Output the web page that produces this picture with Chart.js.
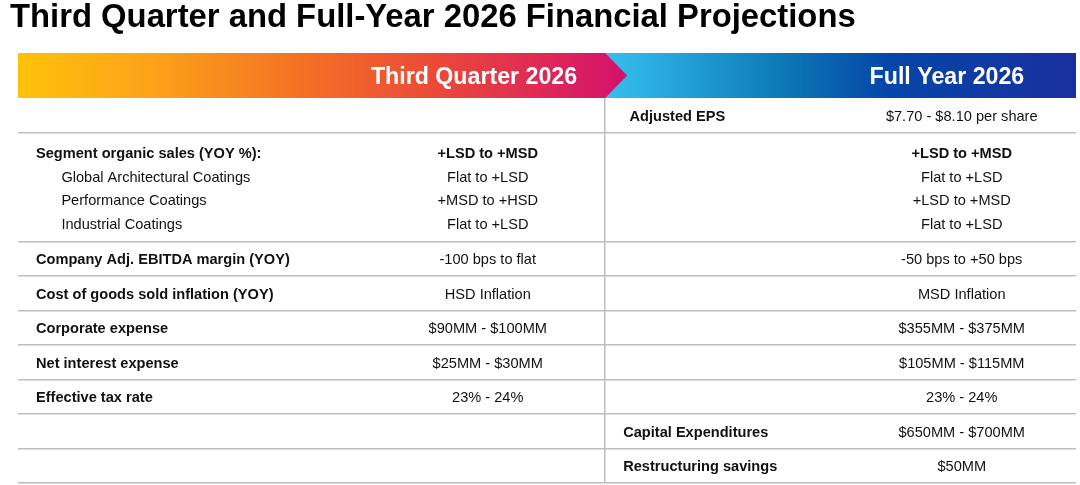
<!DOCTYPE html>
<html>
<head>
<meta charset="utf-8">
<script src="https://cdn.jsdelivr.net/npm/chart.js@4.4.1/dist/chart.umd.min.js"></script>
<style>
  html, body { margin: 0; padding: 0; background: #fff; }
</style>
</head>
<body>
<canvas id="projChart" width="1080" height="485"></canvas>
<script>
// DATA
const chartTitle = 'Third Quarter and Full-Year 2026 Financial Projections';
const periodHeaders = ['Third Quarter 2026', 'Full Year 2026'];

const segmentHeader = 'Segment organic sales (YOY %):';
const segmentNames = ['Global Architectural Coatings', 'Performance Coatings', 'Industrial Coatings'];
const segmentQ3 = ['+LSD to +MSD', 'Flat to +LSD', '+MSD to +HSD', 'Flat to +LSD'];
const segmentFY = ['+LSD to +MSD', 'Flat to +LSD', '+LSD to +MSD', 'Flat to +LSD'];

const metricNames = ['Company Adj. EBITDA margin (YOY)', 'Cost of goods sold inflation (YOY)', 'Corporate expense', 'Net interest expense', 'Effective tax rate'];
const metricQ3 = ['-100 bps to flat', 'HSD Inflation', '$90MM - $100MM', '$25MM - $30MM', '23% - 24%'];
const metricFY = ['-50 bps to +50 bps', 'MSD Inflation', '$355MM - $375MM', '$105MM - $115MM', '23% - 24%'];

const fyOnlyNames = ['Adjusted EPS', 'Capital Expenditures', 'Restructuring savings'];
const fyOnlyValues = ['$7.70 - $8.10 per share', '$650MM - $700MM', '$50MM'];

// LAYOUT (x in % of table width, y in row units)
const X_LABEL = 1.7, X_SUB = 4.1, X_Q3 = 44.4, X_DIV = 55.5, X_FYLABEL = 57.2, X_FY = 89.2;
const X_HEAD = [43.1, 87.8];
const SEG_H = 3.15, SEG_FIRST = 0.57, SEG_STEP = 0.69;

const cells = [];
const rowEdges = [];
let cur = 0;

function cell(x, y, text, bold, align) {
    cells.push({ x: x, y: y, text: text, bold: bold, align: align });
}

// row: Adjusted EPS (full year only)
cell(X_FYLABEL + 0.6, cur + 0.5, fyOnlyNames[0], true, 'left');
cell(X_FY, cur + 0.5, fyOnlyValues[0], false, 'center');
cur += 1; rowEdges.push(cur);

// segment block
cell(X_LABEL, cur + SEG_FIRST, segmentHeader, true, 'left');
segmentNames.forEach((n, i) => cell(X_SUB, cur + SEG_FIRST + (i + 1) * SEG_STEP, n, false, 'left'));
segmentQ3.forEach((v, i) => cell(X_Q3, cur + SEG_FIRST + i * SEG_STEP, v, i === 0, 'center'));
segmentFY.forEach((v, i) => cell(X_FY, cur + SEG_FIRST + i * SEG_STEP, v, i === 0, 'center'));
cur += SEG_H; rowEdges.push(cur);

// metrics
metricNames.forEach((n, i) => {
    cell(X_LABEL, cur + 0.5, n, true, 'left');
    cell(X_Q3, cur + 0.5, metricQ3[i], false, 'center');
    cell(X_FY, cur + 0.5, metricFY[i], false, 'center');
    cur += 1; rowEdges.push(cur);
});

// full year only rows
for (let i = 1; i < fyOnlyNames.length; i++) {
    cell(X_FYLABEL, cur + 0.5, fyOnlyNames[i], true, 'left');
    cell(X_FY, cur + 0.5, fyOnlyValues[i], false, 'center');
    cur += 1; rowEdges.push(cur);
}

const FONT = '"Liberation Sans", Arial, sans-serif';
const TITLE_SIZE = 32.8, TITLE_LH = 1.12;

// banner with the two period headers
const bannerPlugin = {
    id: 'banner',
    beforeDraw(chart) {
        const ctx = chart.ctx;
        const a = chart.chartArea;
        const x = chart.scales.x;
        const top = 53, bot = a.top;
        const div = x.getPixelForValue(X_DIV);

        const blue = ctx.createLinearGradient(div, 0, a.right, 0);
        blue.addColorStop(0, '#36C0EE');
        blue.addColorStop(0.38, '#0C78B6');
        blue.addColorStop(0.6, '#0546A8');
        blue.addColorStop(1, '#1A2F9E');
        ctx.save();
        ctx.fillStyle = blue;
        ctx.fillRect(div, top, a.right - div, bot - top);

        const warm = ctx.createLinearGradient(a.left, 0, div + 22, 0);
        warm.addColorStop(0, '#FFC20A');
        warm.addColorStop(0.22, '#FBA21A');
        warm.addColorStop(0.45, '#F47424');
        warm.addColorStop(0.68, '#EB4A38');
        warm.addColorStop(1, '#D4106D');
        ctx.fillStyle = warm;
        ctx.beginPath();
        ctx.moveTo(a.left, top);
        ctx.lineTo(div, top);
        ctx.lineTo(div + 22, (top + bot) / 2);
        ctx.lineTo(div, bot);
        ctx.lineTo(a.left, bot);
        ctx.closePath();
        ctx.fill();

        ctx.fillStyle = '#ffffff';
        ctx.font = 'bold 23.2px ' + FONT;
        ctx.textAlign = 'center';
        ctx.textBaseline = 'middle';
        periodHeaders.forEach((h, i) => {
            ctx.fillText(h, x.getPixelForValue(X_HEAD[i]), (top + bot) / 2 + 2);
        });
        ctx.restore();
    }
};

// draws the text of every table cell at its point
const cellTextPlugin = {
    id: 'cellText',
    afterDatasetsDraw(chart) {
        const ctx = chart.ctx;
        ctx.save();
        ctx.fillStyle = '#111111';
        ctx.textBaseline = 'middle';
        chart.data.datasets.forEach((ds, di) => {
            const meta = chart.getDatasetMeta(di);
            meta.data.forEach((pt, i) => {
                const raw = ds.data[i];
                ctx.font = (raw.bold ? 'bold ' : '') + '14.6px ' + FONT;
                ctx.textAlign = raw.align;
                ctx.fillText(raw.text, pt.x, pt.y + 1.5);
            });
        });
        ctx.restore();
    }
};

const projCtx = document.getElementById('projChart').getContext('2d');
const projChart = new Chart(projCtx, {
    type: 'scatter',
    data: {
        datasets: [{
            label: 'cells',
            data: cells,
            pointRadius: 0,
            pointHoverRadius: 0
        }]
    },
    options: {
        responsive: false,
        animation: false,
        events: [],
        layout: {
            padding: { left: 10, right: 4, top: 0, bottom: 2 }
        },
        plugins: {
            legend: { display: false },
            tooltip: { enabled: false },
            title: {
                display: true,
                text: chartTitle,
                align: 'start',
                color: '#000000',
                font: { family: FONT, size: TITLE_SIZE, weight: 'bold', lineHeight: TITLE_LH },
                padding: { top: 0, bottom: 98 - TITLE_SIZE * TITLE_LH }
            }
        },
        scales: {
            x: {
                type: 'linear',
                min: 0,
                max: 100,
                afterBuildTicks: s => { s.ticks = [{ value: X_DIV }]; },
                afterFit: s => { s.height = 0; },
                ticks: { display: false },
                border: { display: false },
                grid: { color: '#bdbdbd', lineWidth: 1.5, drawTicks: false }
            },
            y: {
                type: 'linear',
                reverse: true,
                min: 0,
                max: cur,
                afterBuildTicks: s => { s.ticks = rowEdges.map(v => ({ value: v })); },
                afterFit: s => { s.width = 8; },
                ticks: { display: false },
                border: { display: false },
                grid: { color: '#bdbdbd', lineWidth: 1.5, drawTicks: false }
            }
        }
    },
    plugins: [bannerPlugin, cellTextPlugin]
});
</script>
</body>
</html>
